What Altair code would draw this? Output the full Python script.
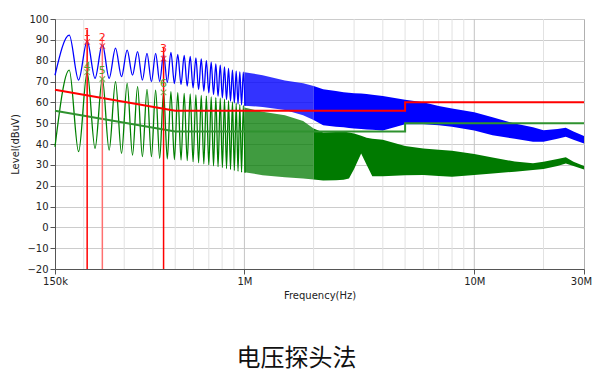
import altair as alt
import pandas as pd

# ---------------- data ----------------
# low-frequency part: alternating peaks / troughs of the ripple (kHz)
low_f_khz = [150, 173, 190, 207, 224, 241, 258, 275, 292, 309, 326, 343, 360, 377, 394,
             411, 428, 445, 462, 479, 496, 513, 530, 547, 564, 581, 598, 615, 632, 649,
             666, 683, 700, 717, 734, 751, 768, 785, 802, 819, 836, 853, 870, 887, 904,
             921, 938, 955, 972, 989, 1006]
blue_low = [73.0, 92.3, 70.7, 89.5, 71.5, 88.0, 71.5, 86.0, 72.3, 85.1, 73.1, 84.3, 70.7, 83.5, 69.9,
            83.5, 70.0, 83.0, 69.5, 84.0, 69.0, 83.0, 68.5, 82.5, 67.8, 82.0, 67.0, 81.3, 66.2, 80.8,
            65.4, 80.0, 64.6, 79.3, 63.8, 78.5, 63.0, 77.8, 62.2, 77.0, 61.4, 76.3, 60.6, 75.5, 59.8,
            75.0, 59.2, 74.6, 58.8, 74.5, 58.4]
green_low = [38.7, 75.5, 36.3, 74.5, 37.9, 71.5, 37.1, 69.9, 35.5, 69.1, 34.7, 67.5, 33.9, 66.2, 33.9,
             65.9, 33.1, 65.0, 32.8, 65.1, 32.5, 64.7, 32.3, 64.3, 32.0, 64.0, 31.5, 63.6, 31.0, 63.3,
             30.5, 63.0, 30.0, 62.6, 29.5, 62.3, 29.1, 62.0, 28.7, 61.5, 28.2, 60.8, 27.8, 60.2, 27.3,
             59.5, 26.9, 59.0, 26.5, 58.5, 26.2]

# dense part: upper / lower envelopes (MHz)
band_f_mhz = [1.0, 1.2, 1.5, 1.8, 2.0, 2.2, 2.5, 2.7, 2.85, 3.0, 3.22, 3.4, 3.6, 4.0, 5.0,
              6.0, 7.0, 8.0, 10.0, 12.0, 15.0, 18.0, 20.0, 23.0, 25.0, 27.0, 30.0]
blue_hi = [74.5, 73.0, 70.5, 69.2, 67.8, 66.3, 65.5, 64.9, 64.6, 64.4, 64.2, 64.0, 63.6, 63.0, 61.2,
           60.0, 58.2, 57.0, 55.2, 52.8, 49.8, 48.0, 46.6, 47.2, 47.8, 46.0, 43.8]
blue_lo = [58.4, 57.8, 56.3, 53.8, 51.5, 49.0, 48.3, 48.0, 47.7, 47.5, 47.2, 47.0, 46.8, 46.5, 49.5,
           49.5, 49.0, 48.3, 46.5, 44.2, 42.5, 41.1, 41.1, 42.5, 43.5, 42.0, 40.3]
green_hi = [57.5, 55.5, 53.8, 51.0, 47.5, 45.5, 45.8, 46.0, 45.5, 45.0, 44.0, 43.0, 42.5, 42.0, 39.0,
            37.8, 37.3, 36.8, 35.2, 33.5, 31.6, 30.8, 31.5, 32.8, 33.6, 31.5, 29.4]
green_lo = [26.5, 25.0, 24.0, 23.5, 23.0, 22.5, 22.6, 22.8, 23.5, 28.0, 35.5, 30.0, 24.5, 24.5, 25.0,
            25.1, 24.7, 24.3, 25.1, 25.9, 26.7, 27.5, 28.0, 29.5, 30.7, 29.4, 27.8]
band_split_mhz = 2.0

# limit lines
limit_f_mhz = [0.15, 0.5, 5.0, 5.0, 30.0]
red_limit = [66, 56, 56, 60, 60]
green_limit = [56, 46, 46, 50, 50]

# markers
marker_f_khz = [207, 241, 445, 207, 241, 445]
marker_lvl = [89.0, 87.0, 81.0, 74.5, 71.2, 64.8]
marker_text = ["1", "2", "3", "4", "5", "6"]
marker_text_lvl = [93.5, 91.0, 85.5, 77.0, 75.2, 68.6]
marker_color = ["#ff2020", "#ff2020", "#ff2020", "#55a028", "#55a028", "#55a028"]
marker_line_f_khz = [207, 241, 445]
marker_line_top = [94.7, 91.5, 86.7]
marker_line_color = ["#ff0000", "#ff7070", "#ff0000"]

# grid / ticks
grid_f_hz = [2e5, 3e5, 4e5, 5e5, 6e5, 7e5, 8e5, 9e5, 1e6, 2e6, 3e6, 4e6, 5e6, 6e6, 7e6,
             8e6, 9e6, 1e7, 2e7]
major_grid_hz = [1e6, 1e7]
x_tick_hz = [150000, 1000000, 10000000, 30000000]
x_tick_labels = ["150k", "1M", "10M", "30M"]
y_ticks = [-20, -10, 0, 10, 20, 30, 40, 50, 60, 70, 80, 90, 100]
chart_title = "电压探头法"

# ---------------- frames ----------------
low_df = pd.DataFrame({
    "f": [v * 1e3 for v in low_f_khz] * 2,
    "lvl": blue_low + green_low,
    "trace": ["blue"] * len(low_f_khz) + ["green"] * len(low_f_khz),
    "c": ["#0000ff"] * len(low_f_khz) + ["#008000"] * len(low_f_khz),
})
band_df = pd.DataFrame({
    "f": [v * 1e6 for v in band_f_mhz] * 2,
    "hi": blue_hi + green_hi,
    "lo": blue_lo + green_lo,
    "trace": ["blue"] * len(band_f_mhz) + ["green"] * len(band_f_mhz),
})
lim_df = pd.DataFrame({
    "f": [v * 1e6 for v in limit_f_mhz] * 2,
    "lvl": red_limit + green_limit,
    "trace": ["red"] * len(limit_f_mhz) + ["green"] * len(limit_f_mhz),
    "c": ["#ff0000"] * len(limit_f_mhz) + ["#2f922f"] * len(limit_f_mhz),
    "order": list(range(len(limit_f_mhz))) * 2,
})
mk_df = pd.DataFrame({
    "f": [v * 1e3 for v in marker_f_khz],
    "lvl": marker_lvl,
    "t": marker_text,
    "tl": marker_text_lvl,
    "c": marker_color,
})
ml_df = pd.DataFrame({
    "f": [v * 1e3 for v in marker_line_f_khz],
    "top": marker_line_top,
    "bot": [y_ticks[0]] * len(marker_line_f_khz),
    "c": marker_line_color,
})
grid_df = pd.DataFrame({
    "f": grid_f_hz,
    "c": ["#c4c4c4" if g in major_grid_hz else "#e2e2e2" for g in grid_f_hz],
})
title_df = pd.DataFrame({"t": [chart_title]})

label_expr = " : ".join(
    f"datum.value == {v} ? '{l}'" for v, l in zip(x_tick_hz, x_tick_labels)
) + " : ''"

xscale = alt.Scale(type="log", domain=[x_tick_hz[0], x_tick_hz[-1]], nice=False)
yscale = alt.Scale(domain=[y_ticks[0], y_ticks[-1]], nice=False)

x_axis = alt.Axis(values=x_tick_hz, labelExpr=label_expr, title="Frequency(Hz)", grid=False,
                  tickSize=5, labelPadding=2, titlePadding=4, labelFlush=False,
                  labelOffset={"condition": {"test": f"datum.value == {x_tick_hz[-1]}", "value": -3},
                               "value": 0})
y_axis = alt.Axis(values=y_ticks, title="Level(dBuV)", grid=True, gridColor="#cccccc",
                  tickSize=5, labelPadding=2, titlePadding=6)


def X(field="f:Q"):
    return alt.X(field, scale=xscale, axis=x_axis)


def Y(field):
    return alt.Y(field, scale=yscale, axis=y_axis)


grid = alt.Chart(grid_df).mark_rule(strokeWidth=1).encode(
    x=X(),
    color=alt.Color("c:N", scale=None),
)

low_lines = alt.Chart(low_df).mark_line(strokeWidth=1.3, interpolate="monotone").encode(
    x=X(),
    y=Y("lvl:Q"),
    detail="trace:N",
    color=alt.Color("c:N", scale=None),
)


def band(trace, colour, first, opacity):
    cond = (f"datum.f <= {band_split_mhz * 1e6}" if first else f"datum.f >= {band_split_mhz * 1e6}")
    return alt.Chart(band_df).transform_filter(f"datum.trace == '{trace}'").transform_filter(cond).mark_area(
        color=colour, opacity=opacity
    ).encode(
        x=X(),
        y=Y("hi:Q"),
        y2="lo:Q",
    )


limits = alt.Chart(lim_df).mark_line(strokeWidth=2).encode(
    x=X(),
    y=Y("lvl:Q"),
    order="order:Q",
    detail="trace:N",
    color=alt.Color("c:N", scale=None),
)

mlines = alt.Chart(ml_df).mark_rule(strokeWidth=1.5).encode(
    x=X(),
    y=Y("top:Q"),
    y2="bot:Q",
    color=alt.Color("c:N", scale=None),
)

mpoints = alt.Chart(mk_df).mark_point(shape="M-1,-1L1,1M-1,1L1,-1", size=30, strokeWidth=1.2,
                                      filled=False).encode(
    x=X(),
    y=Y("lvl:Q"),
    color=alt.Color("c:N", scale=None),
)

mtext = alt.Chart(mk_df).mark_text(fontSize=11, font="DejaVu Sans").encode(
    x=X(),
    y=Y("tl:Q"),
    text="t:N",
    color=alt.Color("c:N", scale=None),
)

title = alt.Chart(title_df).mark_text(fontSize=24, font="Noto Sans CJK SC", color="#111111",
                                      baseline="middle", align="center").encode(
    x=alt.value(241.5),
    y=alt.value(340),
    text="t:N",
)

chart = alt.layer(
    grid, low_lines,
    band("blue", "#0000ff", True, 0.8), band("blue", "#0000ff", False, 1.0),
    band("green", "#007a00", True, 0.75), band("green", "#007a00", False, 1.0),
    limits, mlines, mpoints, mtext, title,
).properties(
    width=529, height=250,
    padding={"left": 47, "top": 11, "right": 8, "bottom": 104},
    autosize=alt.AutoSizeParams(type="none"),
).configure_view(
    stroke="#b0b0b0"
).configure_axis(
    labelFont="DejaVu Sans", labelFontSize=10, labelColor="#222222",
    titleFont="DejaVu Sans", titleFontSize=10, titleColor="#222222", titleFontWeight="normal",
    domainColor="#555555", tickColor="#555555",
)

chart.save("out.html", embed_options={"renderer": "svg", "actions": False})
